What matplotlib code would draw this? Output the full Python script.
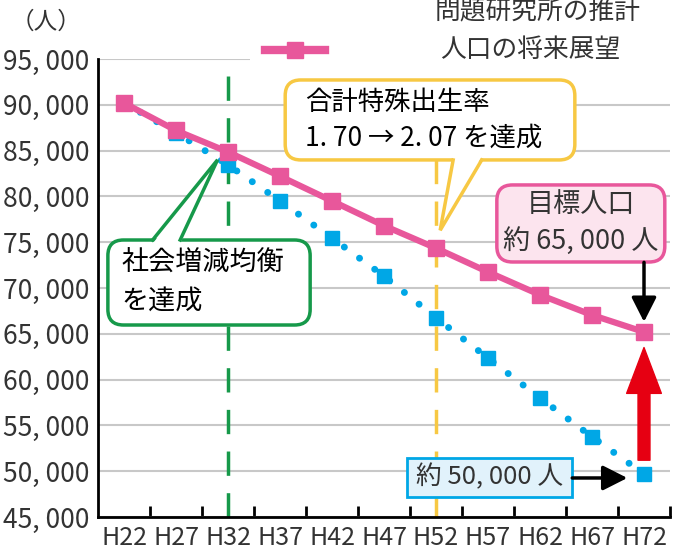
import matplotlib
matplotlib.use("Agg")
import matplotlib.pyplot as plt
from matplotlib.patches import FancyBboxPatch, Polygon, Rectangle
from matplotlib.lines import Line2D

plt.rcParams['font.family'] = ['Noto Sans CJK JP', 'DejaVu Sans']

# data
years = ['H22', 'H27', 'H32', 'H37', 'H42', 'H47', 'H52', 'H57', 'H62', 'H67', 'H72']
vision = [90200, 87200, 84850, 82200, 79500, 76800, 74350, 71750, 69250, 67050, 65200]
estimate = [90200, 86950, 83450, 79500, 75450, 71300, 66750, 62350, 58000, 53750, 49700]
yticks = list(range(45000, 95001, 5000))

PINK = '#e8579b'
BLUE = '#00a7e6'
GREEN = '#16994a'
YELLOW = '#f7c843'
RED = '#e60012'
GRAY = '#333333'

fig = plt.figure(figsize=(6.74, 5.51), dpi=100)
ax = fig.add_axes([98/674, 1-517/551, 572/674, 458/551])

x = list(range(len(years)))
ax.plot(x, estimate, color=BLUE, lw=5, ls=(0, (0.01, 2.7)), dash_capstyle='round',
        marker='s', ms=10, mec=BLUE, mfc=BLUE, zorder=3)
ax.plot(x, vision, color=PINK, lw=4.5, marker='s', ms=11, mec=PINK, mfc=PINK, zorder=4)

ax.set_xlim(-0.5, len(years)-0.5)
ax.set_ylim(45000, 95000)
ax.set_yticks(yticks)
ax.set_yticklabels([f"{v//1000}, 000" for v in yticks], fontsize=19, color=GRAY)
ax.set_xticks(x)
ax.set_xticklabels(years, fontsize=18, color=GRAY)
ax.set_xticks([i + 0.5 for i in x], minor=True)
ax.tick_params(axis='x', which='major', length=0, pad=6)
ax.tick_params(axis='x', which='minor', direction='in', length=8, width=2)
ax.tick_params(axis='y', length=0, pad=6)
ax.grid(axis='y', color='#c8c8c8', lw=1.5)
ax.set_axisbelow(True)
for s in ['top', 'right']:
    ax.spines[s].set_visible(False)
for s in ['left', 'bottom']:
    ax.spines[s].set_linewidth(2)
    ax.spines[s].set_zorder(6)

# cover grid under the legend
ax.add_patch(Rectangle((0.266, 0.97), 0.8, 0.1, transform=ax.transAxes,
                       fc='white', ec='none', clip_on=False, zorder=1))

# vertical dashed markers
ax.axvline(2, color=GREEN, lw=2.5, ls=(0, (7, 5)), zorder=2)
ax.plot([6, 6], [45000, 84000], color=YELLOW, lw=2.5, ls=(0, (7, 5)), zorder=2)


def callout(x0, x1, y0, y1, ec, fc, base, tip, side):
    box = FancyBboxPatch((x0, y0), x1-x0, y1-y0,
                         boxstyle='round,pad=0,rounding_size=0.3',
                         mutation_aspect=5677, fc=fc, ec=ec, lw=2.5, zorder=7)
    ax.add_patch(box)
    if base is None:
        return
    yb = y1 if side == 'top' else y0
    inset = -400 if side == 'top' else 400
    ax.add_patch(Polygon([(base[0], yb+inset), tip, (base[1], yb+inset)],
                         fc=fc, ec='none', zorder=8))
    ax.plot([base[0], tip[0], base[1]], [yb, tip[1], yb], color=ec, lw=2.5,
            solid_joinstyle='miter', zorder=8)


callout(3.10, 8.67, 83980, 92710, YELLOW, 'white', (6.33, 6.88), (6.08, 76300), 'bottom')
ax.text(3.48, 90250, "合計特殊出生率", fontsize=19, ha='left', va='center', zorder=9, color='black')
ax.text(3.48, 86400, "1. 70 → 2. 07 を達成", fontsize=19, ha='left', va='center', zorder=9,
        color='black')

callout(-0.31, 3.58, 65960, 75240, GREEN, 'white', (0.55, 1.08), (1.8, 84000), 'top')
ax.text(-0.05, 72700, "社会増減均衡", fontsize=19.5, ha='left', va='center', zorder=9, color='black')
ax.text(-0.05, 68600, "を達成", fontsize=19.5, ha='left', va='center', zorder=9, color='black')

callout(7.17, 10.40, 72840, 81250, PINK, '#fce4ee', None, None, None)
ax.text(8.79, 79100, "目標人口", fontsize=19.5, ha='center', va='center', zorder=9, color=GRAY)
ax.text(8.79, 75100, "約 65, 000 人", fontsize=19.5, ha='center', va='center', zorder=9, color=GRAY)

ax.add_patch(Rectangle((5.44, 47180), 3.18, 4260, fc='#e1f2fb', ec=BLUE, lw=2, zorder=7))
ax.text(7.03, 49310, "約 50, 000 人", fontsize=18.5, ha='center', va='center', zorder=9, color=GRAY)

# arrows
ax.annotate('', xy=(10, 66300), xytext=(10, 72800),
            arrowprops=dict(arrowstyle='-|>,head_length=0.75,head_width=0.38', color='black',
                            lw=2.5, mutation_scale=20, shrinkA=0, shrinkB=0), zorder=9)
ax.annotate('', xy=(9.68, 49260), xytext=(8.62, 49260),
            arrowprops=dict(arrowstyle='-|>,head_length=0.75,head_width=0.38', color='black',
                            lw=2.5, mutation_scale=20, shrinkA=0, shrinkB=0), zorder=9)
ax.annotate('', xy=(10, 63500), xytext=(10, 51200),
            arrowprops=dict(arrowstyle='simple,head_length=3.3,head_width=2.5,tail_width=0.86',
                            color=RED, mutation_scale=10, shrinkA=0, shrinkB=0), zorder=9)

# legend and unit
fig.text(46/674, 1-22/551, "（人）", fontsize=17, ha='center', va='center', color=GRAY)
fig.text(435/674, 1-12/551, "問題研究所の推計", fontsize=18.5, ha='left', va='center', color=GRAY)
fig.add_artist(Line2D([265/674, 325/674], [1-50/551, 1-50/551], color=PINK, lw=6,
                      transform=fig.transFigure))
fig.add_artist(Line2D([295/674], [1-50/551], color=PINK, marker='s', ms=12,
                      transform=fig.transFigure))
fig.text(440/674, 1-50/551, "人口の将来展望", fontsize=18.5, ha='left', va='center', color=GRAY)

fig.savefig('out.png', dpi=100)
